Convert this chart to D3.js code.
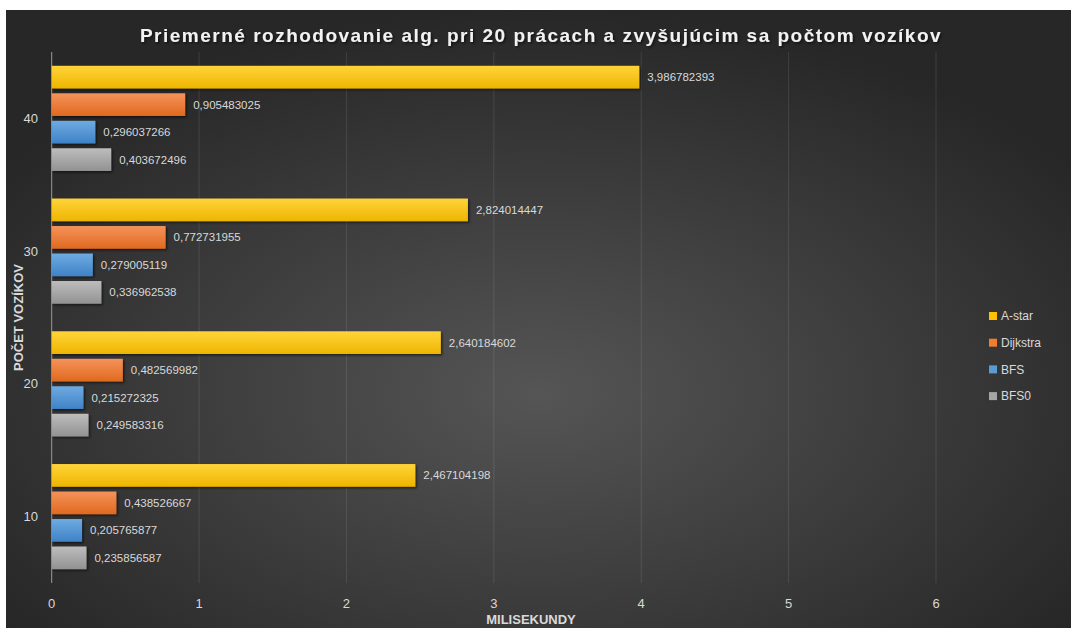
<!DOCTYPE html>
<html>
<head>
<meta charset="utf-8">
<script src="https://cdn.jsdelivr.net/npm/d3@7"></script>
<style>
  body { margin: 0; background: #fff; }
  text { font-family: "Liberation Sans", Arial, sans-serif; }
</style>
</head>
<body>
<script>
// data
var categories = ["40", "30", "20", "10"];
var seriesNames = ["A-star", "Dijkstra", "BFS", "BFS0"];
var aStar = [3.986782393, 2.824014447, 2.640184602, 2.467104198];
var dijkstra = [0.905483025, 0.772731955, 0.482569982, 0.438526667];
var bfs = [0.296037266, 0.279005119, 0.215272325, 0.205765877];
var bfs0 = [0.403672496, 0.336962538, 0.249583316, 0.235856587];
var xTicks = [0, 1, 2, 3, 4, 5, 6];

var seriesValues = [aStar, dijkstra, bfs, bfs0];
var colors = [
  { top: "#ffd43a", bottom: "#eeb500", key: "#ffc000" },
  { top: "#f5935a", bottom: "#e0691f", key: "#ed7d31" },
  { top: "#6fabe2", bottom: "#3f82c6", key: "#5b9bd5" },
  { top: "#bdbdbd", bottom: "#929292", key: "#a5a5a5" }
];

var width = 1071, height = 628;
var svg = d3.select("body").append("svg")
  .attr("width", width)
  .attr("height", height);

var defs = svg.append("defs");

var bg = defs.append("radialGradient")
  .attr("id", "bgGrad")
  .attr("cx", "50%").attr("cy", "62%").attr("r", "62%");
bg.append("stop").attr("offset", "0%").attr("stop-color", "#555555");
bg.append("stop").attr("offset", "100%").attr("stop-color", "#272727");

colors.forEach(function(c, i) {
  var g = defs.append("linearGradient")
    .attr("id", "barGrad" + i)
    .attr("x1", 0).attr("y1", 0).attr("x2", 0).attr("y2", 1);
  g.append("stop").attr("offset", "0%").attr("stop-color", c.top);
  g.append("stop").attr("offset", "100%").attr("stop-color", c.bottom);
});

var shadow = defs.append("filter").attr("id", "shadow")
  .attr("x", "-10%").attr("y", "-30%").attr("width", "130%").attr("height", "180%");
shadow.append("feDropShadow")
  .attr("dx", 1.5).attr("dy", 1.5).attr("stdDeviation", 1.2)
  .attr("flood-color", "#000").attr("flood-opacity", 0.55);

// chart background
svg.append("rect")
  .attr("x", 6).attr("y", 10)
  .attr("width", width - 6).attr("height", height - 10)
  .attr("fill", "url(#bgGrad)");

var plotLeft = 51.7, plotRight = 936, plotTop = 52, plotBottom = 583;

var x = d3.scaleLinear().domain([0, 6]).range([plotLeft, plotRight]);
var y0 = d3.scaleBand().domain(categories).range([plotTop, plotBottom]);
var y1 = d3.scaleBand().domain(seriesNames)
  .range([13.8, y0.bandwidth() - 13.8])
  .paddingInner(0.175);

// vertical gridlines
svg.append("g")
  .selectAll("line")
  .data(xTicks.slice(1))
  .enter()
  .append("line")
  .attr("x1", function(d) { return x(d); })
  .attr("x2", function(d) { return x(d); })
  .attr("y1", plotTop)
  .attr("y2", plotBottom)
  .attr("stroke", "#ffffff")
  .attr("stroke-opacity", 0.1)
  .attr("stroke-width", 1);

// category axis line
svg.append("line")
  .attr("x1", plotLeft).attr("x2", plotLeft)
  .attr("y1", plotTop).attr("y2", plotBottom)
  .attr("stroke", "#9a9a9a")
  .attr("stroke-width", 1);

// bars
var groups = svg.selectAll(".group")
  .data(categories)
  .enter()
  .append("g")
  .attr("class", "group")
  .attr("transform", function(d) { return "translate(0," + y0(d) + ")"; });

groups.each(function(cat, ci) {
  var g = d3.select(this);
  var rows = seriesNames.map(function(s, si) {
    return { name: s, idx: si, value: seriesValues[si][ci] };
  });

  g.selectAll("rect")
    .data(rows)
    .enter()
    .append("rect")
    .attr("x", x(0))
    .attr("y", function(d) { return y1(d.name); })
    .attr("width", function(d) { return x(d.value) - x(0); })
    .attr("height", y1.bandwidth())
    .attr("fill", function(d) { return "url(#barGrad" + d.idx + ")"; })
    .attr("filter", "url(#shadow)");

  g.selectAll(".numbers")
    .data(rows)
    .enter()
    .append("text")
    .attr("class", "numbers")
    .attr("x", function(d) { return x(d.value) + 8; })
    .attr("y", function(d) { return y1(d.name) + y1.bandwidth() / 2; })
    .attr("dy", "0.35em")
    .attr("fill", "#d9d9d9")
    .style("font-size", "11.5px")
    .text(function(d) { return String(d.value).replace(".", ","); });
});

// category labels
svg.selectAll(".catLabel")
  .data(categories)
  .enter()
  .append("text")
  .attr("class", "catLabel")
  .attr("x", 38)
  .attr("y", function(d) { return y0(d) + y0.bandwidth() / 2; })
  .attr("dy", "0.35em")
  .attr("text-anchor", "end")
  .attr("fill", "#d9d9d9")
  .style("font-size", "13px")
  .text(function(d) { return d; });

// x tick labels
svg.selectAll(".xLabel")
  .data(xTicks)
  .enter()
  .append("text")
  .attr("class", "xLabel")
  .attr("x", function(d) { return x(d); })
  .attr("y", 603)
  .attr("dy", "0.35em")
  .attr("text-anchor", "middle")
  .attr("fill", "#d9d9d9")
  .style("font-size", "13px")
  .text(function(d) { return d; });

// axis titles
svg.append("text")
  .attr("x", 531)
  .attr("y", 619)
  .attr("dy", "0.35em")
  .attr("text-anchor", "middle")
  .attr("fill", "#d9d9d9")
  .style("font-size", "13px")
  .style("font-weight", "bold")
  .text("MILISEKUNDY");

svg.append("text")
  .attr("transform", "translate(18," + ((plotTop + plotBottom) / 2) + ") rotate(-90)")
  .attr("dy", "0.35em")
  .attr("text-anchor", "middle")
  .attr("fill", "#d9d9d9")
  .style("font-size", "13px")
  .style("font-weight", "bold")
  .text("POČET VOZÍKOV");

// title
svg.append("text")
  .attr("x", 541)
  .attr("y", 35)
  .attr("dy", "0.35em")
  .attr("text-anchor", "middle")
  .attr("fill", "#f2f2f2")
  .attr("filter", "url(#shadow)")
  .style("font-size", "19px")
  .style("font-weight", "bold")
  .style("letter-spacing", "1.5px")
  .text("Priemerné rozhodovanie alg. pri 20 prácach a zvyšujúcim sa počtom vozíkov");

// legend
var legend = svg.selectAll(".legend")
  .data(seriesNames)
  .enter()
  .append("g")
  .attr("class", "legend")
  .attr("transform", function(d, i) { return "translate(989," + (316 + i * 26.7) + ")"; });

legend.append("rect")
  .attr("x", 0).attr("y", -4)
  .attr("width", 8).attr("height", 8)
  .attr("fill", function(d, i) { return colors[i].key; });

legend.append("text")
  .attr("x", 12)
  .attr("dy", "0.35em")
  .attr("fill", "#d9d9d9")
  .style("font-size", "12px")
  .text(function(d) { return d; });
</script>
</body>
</html>
